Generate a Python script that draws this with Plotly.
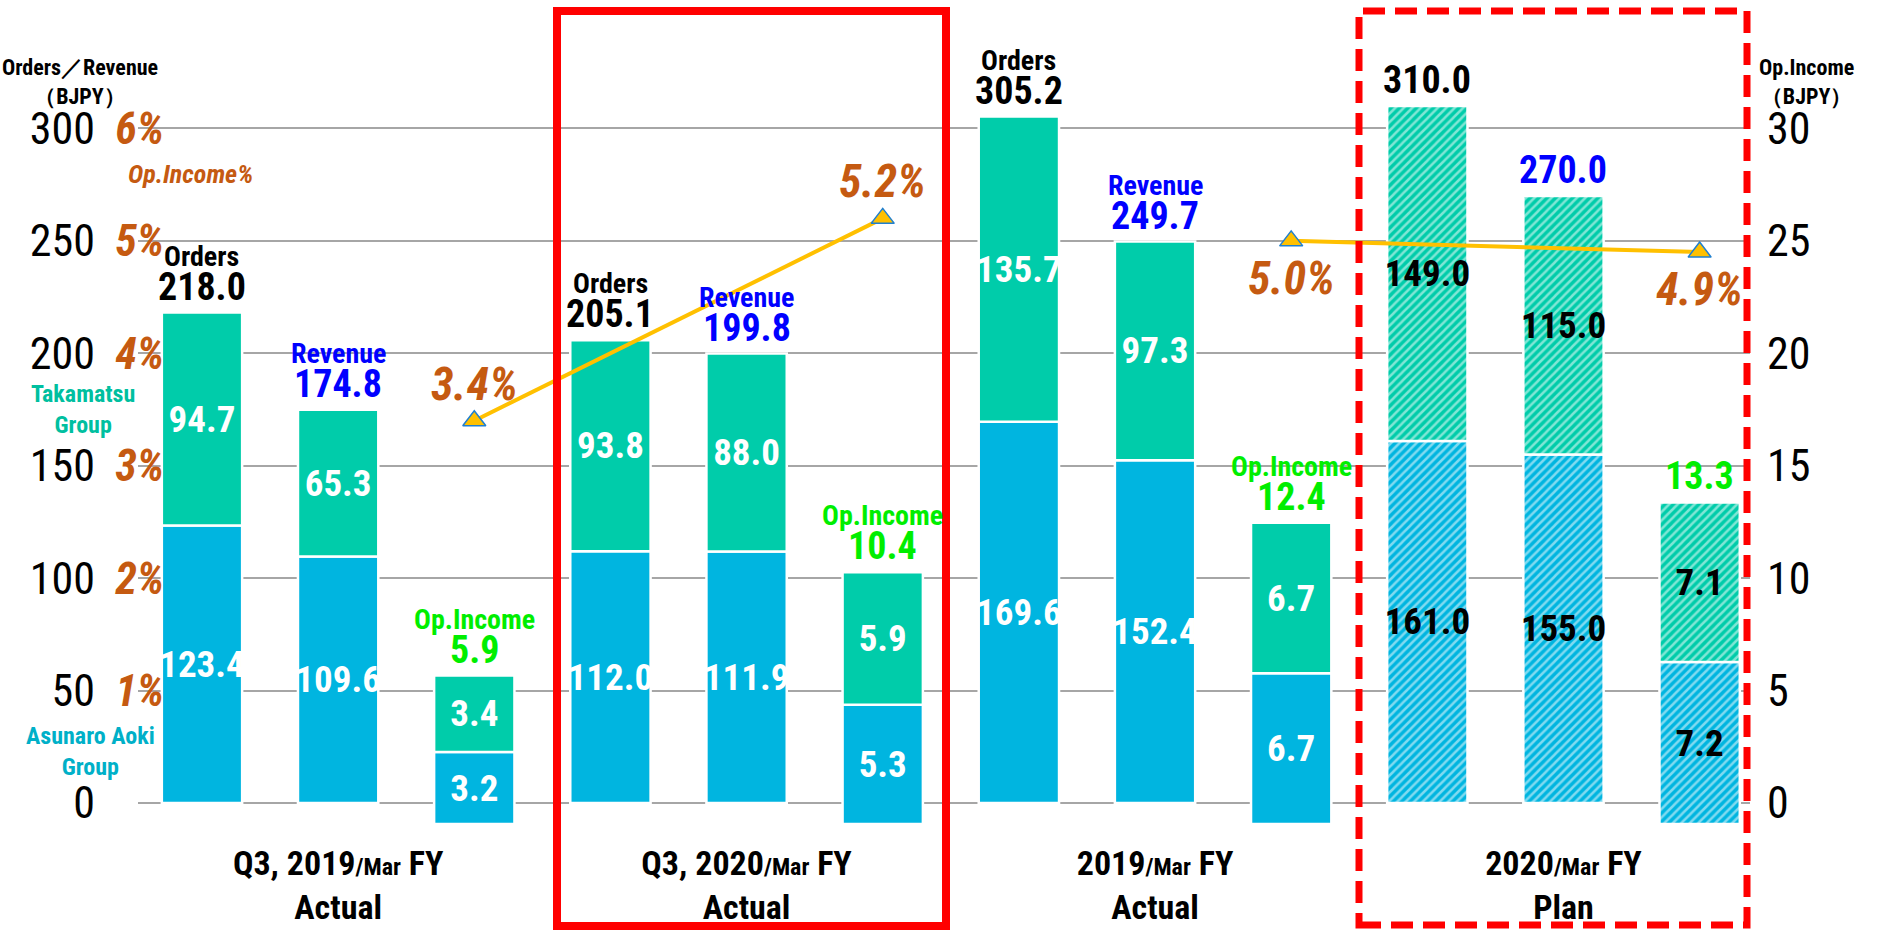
import plotly.graph_objects as go

# ---------------- data ----------------
groups = ["Q3, 2019", "Q3, 2020", "2019", "2020"]
group_status = ["Actual", "Actual", "Actual", "Plan"]
metrics = ["Orders", "Revenue", "Op.Income"]
is_plan = [False, False, False, True]

asunaro_orders = [123.4, 112.0, 169.6, 161.0]
takamatsu_orders = [94.7, 93.8, 135.7, 149.0]
orders_total = [218.0, 205.1, 305.2, 310.0]

asunaro_revenue = [109.6, 111.9, 152.4, 155.0]
takamatsu_revenue = [65.3, 88.0, 97.3, 115.0]
revenue_total = [174.8, 199.8, 249.7, 270.0]

asunaro_opincome = [3.2, 5.3, 6.7, 7.2]
takamatsu_opincome = [3.4, 5.9, 6.7, 7.1]
opincome_total = [5.9, 10.4, 12.4, 13.3]

opincome_pct = [3.4, 5.2, 5.0, 4.9]
pct_label_side = ["above", "above", "below", "below"]

left_ticks = [0, 50, 100, 150, 200, 250, 300, 350]
left_tick_labels = ["0", "50", "100", "150", "200", "250", "300", ""]
right_ticks = [0, 5, 10, 15, 20, 25, 30]
right_tick_labels = ["0", "5", "10", "15", "20", "25", "30"]
pct_ticks = [1, 2, 3, 4, 5, 6]
pct_tick_labels = ["1%", "2%", "3%", "4%", "5%", "6%"]

# ---------------- style / layout constants ----------------
W, H = 1895, 932
PLOT_L, PLOT_R, PLOT_T, PLOT_B = 138, 1750, 16, 840
ZERO_MAIN, ZERO_OP, TOP_VAL = 803, 824, 350

NARROW = "Liberation Sans Narrow, Arial Narrow, Roboto Condensed, Liberation Sans, Arial, sans-serif"
TEAL = "#00CCAA"
BLUE = "#00B5E0"
ORANGE = "#C55A11"
GREEN = "#00EE00"
REV_BLUE = "#0000FF"
GRID = "#A6A6A6"
LINE_Y = "#FFC000"

px_per_unit = (ZERO_MAIN - PLOT_T) / TOP_VAL
main_range = [-(PLOT_B - ZERO_MAIN) / px_per_unit, TOP_VAL]
op_px = px_per_unit * 10
op_range = [-(PLOT_B - ZERO_OP) / op_px, (ZERO_OP - PLOT_T) / op_px]
right_range = [v / 10 for v in main_range]
pct_range = [v / 50 for v in main_range]


def cat(i, m):
    return f"{groups[i]} {group_status[i]} | {m}"


categories = [cat(i, m) for i in range(len(groups)) for m in metrics]

fig = go.Figure()

# orders / revenue stacked bars
x_or, asu_or, tak_or, shapes_or, tcol_or = [], [], [], [], []
for i in range(len(groups)):
    for m, a, t in (("Orders", asunaro_orders[i], takamatsu_orders[i]),
                    ("Revenue", asunaro_revenue[i], takamatsu_revenue[i])):
        x_or.append(cat(i, m))
        asu_or.append(a)
        tak_or.append(t)
        shapes_or.append("/" if is_plan[i] else "")
        tcol_or.append("black" if is_plan[i] else "white")

x_op = [cat(i, "Op.Income") for i in range(len(groups))]
shapes_op = ["/" if p else "" for p in is_plan]
tcol_op = ["black" if p else "white" for p in is_plan]

BAR_W = 0.59


def bar(name, x, y, color, pat, tcol, yaxis):
    return go.Bar(
        name=name, x=x, y=y, yaxis=yaxis, width=BAR_W,
        marker=dict(color=color, line=dict(color="white", width=2.5),
                    pattern=dict(shape=pat, fillmode="overlay", fgcolor="white",
                                 size=6, solidity=0.42)),
        texttemplate="%{y:.1f}", textposition="inside", insidetextanchor="middle",
        textangle=0, constraintext="none",
        textfont=dict(family=NARROW, size=37, color=tcol, weight="bold"),
        hoverinfo="skip", showlegend=False,
    )


fig.add_trace(bar("Asunaro Aoki Group", x_or, asu_or, BLUE, shapes_or, tcol_or, "y"))
fig.add_trace(bar("Takamatsu Group", x_or, tak_or, TEAL, shapes_or, tcol_or, "y"))
fig.add_trace(bar("Asunaro Aoki Group Op.Income", x_op, asunaro_opincome, BLUE, shapes_op, tcol_op, "y2"))
fig.add_trace(bar("Takamatsu Group Op.Income", x_op, takamatsu_opincome, TEAL, shapes_op, tcol_op, "y2"))

# Op.Income % lines (actual Q3 pair, full-year pair)
for seg in ((0, 1), (2, 3)):
    fig.add_trace(go.Scatter(
        x=[x_op[k] for k in seg], y=[opincome_pct[k] for k in seg], yaxis="y4",
        mode="lines+markers",
        line=dict(color=LINE_Y, width=4),
        marker=dict(symbol="triangle-up", size=20, color=LINE_Y,
                    line=dict(color="#1F7FD0", width=1.5)),
        hoverinfo="skip", showlegend=False,
    ))

# invisible helper for right axis
fig.add_trace(go.Scatter(x=x_op, y=opincome_total, yaxis="y3", mode="markers",
                         marker=dict(opacity=0), hoverinfo="skip", showlegend=False))

# ---------------- annotations ----------------
ann = []
for i in range(len(groups)):
    items = (
        ("Orders", orders_total[i], asunaro_orders[i] + takamatsu_orders[i], "black", "y"),
        ("Revenue", revenue_total[i], asunaro_revenue[i] + takamatsu_revenue[i], REV_BLUE, "y"),
        ("Op.Income", opincome_total[i], asunaro_opincome[i] + takamatsu_opincome[i], GREEN, "y2"),
    )
    for m, tot, top, col, yr in items:
        ann.append(dict(x=cat(i, m), y=top, xref="x", yref=yr, text=f"{tot:.1f}",
                        showarrow=False, yanchor="bottom", yshift=2,
                        font=dict(family=NARROW, size=38, color=col, weight="bold")))
        if not is_plan[i]:
            ann.append(dict(x=cat(i, m), y=top, xref="x", yref=yr, text=m,
                            showarrow=False, yanchor="bottom", yshift=38,
                            font=dict(family=NARROW, size=28, color=col, weight="bold")))

for i, v in enumerate(opincome_pct):
    above = pct_label_side[i] == "above"
    ann.append(dict(x=x_op[i], y=v, xref="x", yref="y4", text=f"{v:.1f}%",
                    showarrow=False, yanchor="bottom" if above else "top",
                    yshift=8 if above else -8, xshift=0,
                    font=dict(family=NARROW, size=46, color=ORANGE, weight="bold", style="italic")))


def paper(px_x, px_y):
    return px_x / W, 1 - px_y / H


for txt, (px, py), size, col, style in (
    ("Orders／Revenue<br>（BJPY）", (80, 82), 22, "black", "normal"),
    ("Op.Income<br>（BJPY）", (1806, 82), 22, "black", "normal"),
    ("Op.Income%", (190, 174), 26, ORANGE, "italic"),
    ("Takamatsu<br>Group", (83, 409), 24, "#00BFA0", "normal"),
    ("Asunaro Aoki<br>Group", (90, 751), 24, "#00B0C8", "normal"),
):
    ax, ay = paper(px, py)
    ann.append(dict(x=ax, y=ay, xref="paper", yref="paper", text=txt, showarrow=False,
                    xanchor="center", yanchor="middle",
                    font=dict(family=NARROW, size=size, color=col, weight="bold", style=style)))

# ---------------- highlight frames ----------------
shapes = [
    dict(type="rect", xref="paper", yref="paper",
         x0=557 / W, x1=946 / W, y0=1 - 926 / H, y1=1 - 11 / H,
         line=dict(color="#FF0000", width=8), layer="above"),
    dict(type="rect", xref="paper", yref="paper",
         x0=1359 / W, x1=1747 / W, y0=1 - 925 / H, y1=1 - 11 / H,
         line=dict(color="#FF0000", width=7, dash="22px,10px"), layer="above"),
]

group_ticktext = [f"{groups[i]}<span style='font-size:24px'>/Mar</span> FY<br>{group_status[i]}"
                  for i in range(len(groups))]

fig.update_layout(
    width=W, height=H, autosize=False,
    margin=dict(l=0, r=0, t=0, b=0),
    paper_bgcolor="white", plot_bgcolor="white",
    barmode="relative", showlegend=False,
    font=dict(family=NARROW),
    xaxis=dict(domain=[PLOT_L / W, PLOT_R / W], type="category",
               categoryorder="array", categoryarray=categories,
               range=[-0.47, 11.37], tickvals=[cat(i, "Revenue") for i in range(len(groups))],
               ticktext=group_ticktext, ticks="", showgrid=False, zeroline=False, showline=False,
               tickfont=dict(family=NARROW, size=34, color="black", weight="bold")),
    yaxis=dict(domain=[1 - PLOT_B / H, 1 - PLOT_T / H], range=main_range,
               tickvals=left_ticks, ticktext=left_tick_labels,
               showgrid=True, gridcolor=GRID, gridwidth=2, zeroline=False, showline=False,
               ticks="", ticklabelstandoff=42,
               tickfont=dict(family=NARROW, size=44, color="black")),
    yaxis2=dict(overlaying="y", range=op_range, visible=False),
    yaxis3=dict(overlaying="y", side="right", anchor="x", range=right_range,
                tickvals=right_ticks, ticktext=right_tick_labels, showgrid=False,
                zeroline=False, showline=False, ticks="", ticklabelstandoff=16,
                tickfont=dict(family=NARROW, size=44, color="black")),
    yaxis4=dict(overlaying="y", side="left", anchor="free", position=164 / W,
                range=pct_range, tickvals=pct_ticks, ticktext=pct_tick_labels,
                showgrid=False, zeroline=False, showline=False, ticks="",
                tickfont=dict(family=NARROW, size=44, color=ORANGE, weight="bold", style="italic")),
    annotations=ann,
    shapes=shapes,
)

fig.write_html("out.html", config={"displayModeBar": False},
               post_script="document.body.style.margin='0';document.body.style.overflow='hidden';")
